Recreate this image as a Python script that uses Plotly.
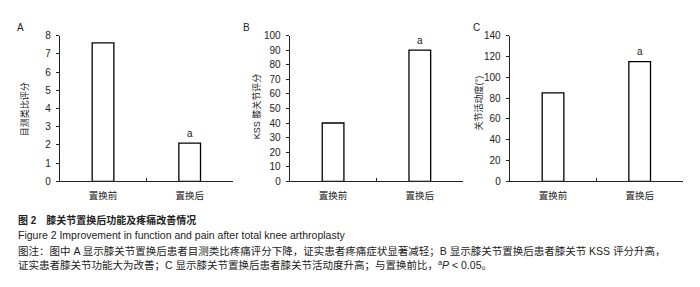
import plotly.graph_objects as go

categories = ["置换前", "置换后"]
vas_scores = [7.6, 2.1]
kss_scores = [40, 90]
rom_degrees = [85, 115]

panel_letters = ["A", "B", "C"]
y_titles = ["目测类比评分", "KSS 膝关节评分", "关节活动度(°)"]
y_ranges = [[0, 8], [0, 100], [0, 140]]
y_dtick = [1, 10, 20]
sig_marks = ["", "a"]

caption_title = "<b>图 2　膝关节置换后功能及疼痛改善情况</b>"
caption_en = "Figure 2 Improvement in function and pain after total knee arthroplasty"
caption_note1 = "图注：图中 A 显示膝关节置换后患者目测类比疼痛评分下降，证实患者疼痛症状显著减轻；B 显示膝关节置换后患者膝关节 KSS 评分升高，"
caption_note2 = "证实患者膝关节功能大为改善；C 显示膝关节置换后患者膝关节活动度升高；与置换前比，<sup>a</sup><i>P</i> &lt; 0.05。"

W, H = 700, 287
FONT = "Liberation Sans, Arial, Noto Sans CJK SC, sans-serif"

x_px = [(51.7, 225.0), (281.7, 455.2), (501.7, 675.0)]
y_dom = [1 - 175 / H, 1 - 23.5 / H]

series = [vas_scores, kss_scores, rom_degrees]

fig = go.Figure()
annotations = []
layout_axes = {}

for i, vals in enumerate(series):
    n = "" if i == 0 else str(i + 1)
    fig.add_trace(go.Bar(
        x=categories, y=vals,
        xaxis="x" + n, yaxis="y" + n,
        width=0.25,
        marker=dict(color="white", line=dict(color="black", width=1.3)),
        showlegend=False,
        hoverinfo="skip",
    ))
    layout_axes["xaxis" + n] = dict(
        domain=[x_px[i][0] / W, x_px[i][1] / W],
        anchor="y" + n,
        type="category",
        range=[-0.5, 1.5],
        showline=True, linecolor="#222", linewidth=1,
        ticks="inside", tickson="boundaries", ticklen=3, tickcolor="#222",
        showgrid=False, zeroline=False,
        tickfont=dict(family=FONT, size=9.5, color="#222"),
        ticklabelstandoff=5,
    )
    layout_axes["yaxis" + n] = dict(
        domain=y_dom,
        anchor="x" + n,
        range=y_ranges[i],
        dtick=y_dtick[i],
        showline=True, linecolor="#222", linewidth=1,
        ticks="outside", ticklen=3, tickcolor="#222",
        showgrid=False, zeroline=False,
        tickfont=dict(family=FONT, size=10, color="#222"),
        ticklabelstandoff=3,
    )
    for c, v, m in zip(categories, vals, sig_marks):
        if m:
            annotations.append(dict(
                x=c, y=v, xref="x" + n, yref="y" + n,
                text=m, showarrow=False, yanchor="middle", yshift=10,
                font=dict(family=FONT, size=10, color="#222"),
            ))

letter_pos = [(12, 15), (238, 15), (468, 15)]
ytitle_pos = [(16, 100), (248, 97), (470, 93)]
for i in range(3):
    annotations.append(dict(
        x=letter_pos[i][0] / W, y=1 - letter_pos[i][1] / H, xref="paper", yref="paper",
        text=panel_letters[i], showarrow=False, xanchor="center", yanchor="middle",
        font=dict(family=FONT, size=10, color="#222"),
    ))
    annotations.append(dict(
        x=ytitle_pos[i][0] / W, y=1 - ytitle_pos[i][1] / H, xref="paper", yref="paper",
        text=y_titles[i], showarrow=False, textangle=-90, xanchor="center", yanchor="middle",
        font=dict(family=FONT, size=9, color="#222"),
    ))

captions = [
    (caption_title, 215, 10),
    (caption_en, 231, 10.5),
    (caption_note1, 247.5, 10.5),
    (caption_note2, 262, 10.5),
]
for text, ypx, fs in captions:
    annotations.append(dict(
        x=8 / W, y=1 - ypx / H, xref="paper", yref="paper",
        text=text, showarrow=False, xanchor="left", yanchor="middle",
        font=dict(family=FONT, size=fs, color="#222"),
    ))

fig.update_layout(
    width=W, height=H,
    margin=dict(l=0, r=0, t=0, b=0),
    paper_bgcolor="white", plot_bgcolor="white",
    annotations=annotations,
    **layout_axes,
)

fig.write_html("out.html")
